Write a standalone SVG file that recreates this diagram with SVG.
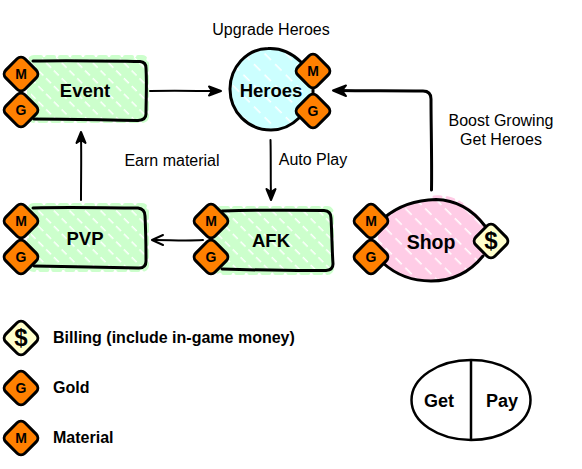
<svg xmlns="http://www.w3.org/2000/svg" width="582" height="469" viewBox="0 0 582 469">
<style>
text{font-family:"Liberation Sans",Arial,sans-serif;fill:#000}
.t{font-size:16px;text-anchor:middle}
.n{font-size:18.500px;font-weight:bold;text-anchor:middle}
.d{font-size:14px;font-weight:bold;text-anchor:middle}
.s{font-size:24px;font-weight:bold;text-anchor:middle}
.l{font-size:16px;font-weight:bold}
.k{font-size:18px;font-weight:bold;text-anchor:middle}
.o{fill:none;stroke:#000;stroke-width:3;stroke-linecap:round;stroke-linejoin:round}
.a{fill:none;stroke:#000;stroke-width:2;stroke-linecap:round;stroke-linejoin:round}
.h{fill:#000;stroke:#000;stroke-width:2;stroke-linejoin:round}
.or{fill:#ff8000;stroke:#000;stroke-width:3}
.cr{fill:#ffffcc;stroke:#000;stroke-width:3}
.eg{fill:none;stroke:#ccffcc;stroke-width:4;stroke-dasharray:7 6;stroke-linecap:round}
.ep{fill:none;stroke:#ffcce6;stroke-width:3;stroke-dasharray:7 6;stroke-linecap:round}
</style>
<defs>
<pattern id="hg" width="11" height="11" patternUnits="userSpaceOnUse" patternTransform="rotate(45)"><rect width="11" height="11" fill="#ccffcc"/><rect y="0" width="7" height="1.500" fill="#fff"/></pattern>
<pattern id="hb" width="15" height="15" patternUnits="userSpaceOnUse" patternTransform="rotate(45)"><rect width="15" height="15" fill="#ccffff"/><rect y="0" width="9" height="1.500" fill="#fff"/></pattern>
<pattern id="hp" width="14" height="14" patternUnits="userSpaceOnUse" patternTransform="rotate(45)"><rect width="14" height="14" fill="#ffcce6"/><rect y="0" width="9" height="1.500" fill="#fff"/></pattern>
<rect id="dia" x="-13.500" y="-13.500" width="27" height="27" rx="5.500" transform="rotate(45)"/>
</defs>

<g id="connectors">
<path class="a" d="M150 91C175 90.500 198 91 216 91"/><path class="h" d="M221 91L209 86.500L212 91L209 95.500Z"/>
<path class="a" d="M270.500 140C271 160 270.500 180 271 195"/><path class="h" d="M271 200L266.500 189L271 192L275.500 189Z"/>
<path class="a" d="M203 240C186 241 170 240 155 240"/><path class="a" d="M163 235L152 240L163 245"/>
<path class="a" d="M81 200C81 176 81.500 156 81 137"/><path class="h" d="M81 132L76.500 143L81 140L85.500 143Z"/>
<path class="o" d="M431.500 190C432 160 431 125 431 99Q431 91 423 91C395 90.500 365 91 338 90.500"/><path class="h" d="M333 90.500L346 85.500L342 90.500L346 96Z"/>
</g>

<g id="node-event">
<rect x="29" y="57" width="118" height="64" rx="5" fill="url(#hg)"/>
<rect x="29" y="57" width="118" height="64" rx="5" class="eg"/>
<path class="o" d="M33 61C70 60 110 61 140 61.500Q146 62 146 68C147 85 146 100 146 114Q146 120 138 120.500C100 120 70 119 34 119"/>
<use href="#dia" x="21" y="74" class="or"/><text class="d" x="21" y="79">M</text>
<use href="#dia" x="21" y="110" class="or"/><text class="d" x="21" y="115">G</text>
<text class="n" x="85" y="97">Event</text>
</g>

<g id="node-heroes">
<circle cx="271" cy="89" r="40" fill="url(#hb)"/>
<path class="o" d="M301 62C290 51 278 48 268 48.500C246 49 230 68 230 89C230 112 248 130 271 130C281 130 291 126 299 118"/>
<path class="o" d="M313 88V94"/>
<use href="#dia" x="313" y="71" class="or"/><text class="d" x="313" y="76">M</text>
<use href="#dia" x="313" y="111" class="or"/><text class="d" x="313" y="116">G</text>
<text class="n" x="271" y="97">Heroes</text>
</g>

<g id="node-pvp">
<rect x="29" y="205" width="118" height="65" rx="5" fill="url(#hg)"/>
<rect x="29" y="205" width="118" height="65" rx="5" class="eg"/>
<path class="o" d="M33 208C70 207 105 208 138 208Q145 209 145 216C146 235 146 250 146 261Q146 268 139 268C100 267 70 267 34 266"/>
<use href="#dia" x="21" y="221" class="or"/><text class="d" x="21" y="226">M</text>
<use href="#dia" x="21" y="257" class="or"/><text class="d" x="21" y="262">G</text>
<text class="n" x="85" y="245">PVP</text>
</g>

<g id="node-afk">
<rect x="216" y="208" width="116" height="65" rx="5" fill="url(#hg)"/>
<rect x="216" y="208" width="116" height="65" rx="5" class="eg"/>
<path class="o" d="M222 211C260 210 295 210 324 210.500Q331 211 331 218C332 235 332 250 333 264Q333 270 326 270.500C290 271 255 270 222 269"/>
<use href="#dia" x="211" y="221" class="or"/><text class="d" x="211" y="226">M</text>
<use href="#dia" x="211" y="257" class="or"/><text class="d" x="211" y="262">G</text>
<text class="n" x="271" y="247">AFK</text>
</g>

<g id="node-shop">
<path d="M378 226C392 208 415 199 440 199C465 200 485 215 492 241C480 265 460 281 432 281C408 281 390 270 378 258Z" fill="url(#hp)"/>
<path class="ep" d="M434 197C445 196 455 199 462 204"/>
<path class="o" d="M384 218C398 206 415 200 436 199.500C455 200 472 209 485 226M483 256C470 272 452 281 431 281C410 281 394 273 383 263"/>
<use href="#dia" x="371" y="221" class="or"/><text class="d" x="371" y="226">M</text>
<use href="#dia" x="371" y="257" class="or"/><text class="d" x="371" y="262">G</text>
<use href="#dia" x="491" y="241" class="cr"/><text class="s" x="491" y="249">$</text>
<text x="431" y="249" style="font-size:19.500px;font-weight:bold;text-anchor:middle">Shop</text>
</g>

<g id="labels">
<text class="t" x="271" y="35">Upgrade Heroes</text>
<text class="t" x="172" y="166">Earn material</text>
<text class="t" x="313" y="165">Auto Play</text>
<text class="t" x="501" y="126">Boost Growing</text>
<text class="t" x="501" y="145">Get Heroes</text>
</g>

<g id="legend">
<use href="#dia" x="21" y="338" class="cr"/><text class="s" x="21" y="346">$</text>
<text class="l" x="53" y="343">Billing (include in-game money)</text>
<use href="#dia" x="21" y="388" class="or"/><text class="d" x="21" y="393">G</text>
<text class="l" x="53" y="393">Gold</text>
<use href="#dia" x="21" y="438" class="or"/><text class="d" x="21" y="443">M</text>
<text class="l" x="53" y="443">Material</text>
</g>

<g id="node-key">
<ellipse cx="471" cy="400" rx="59.500" ry="40" fill="#fff" stroke="#000" stroke-width="2.500"/>
<path d="M471 360V440" stroke="#000" stroke-width="2.500"/>
<text class="k" x="439" y="407">Get</text>
<text class="k" x="502" y="407">Pay</text>
</g>
</svg>
